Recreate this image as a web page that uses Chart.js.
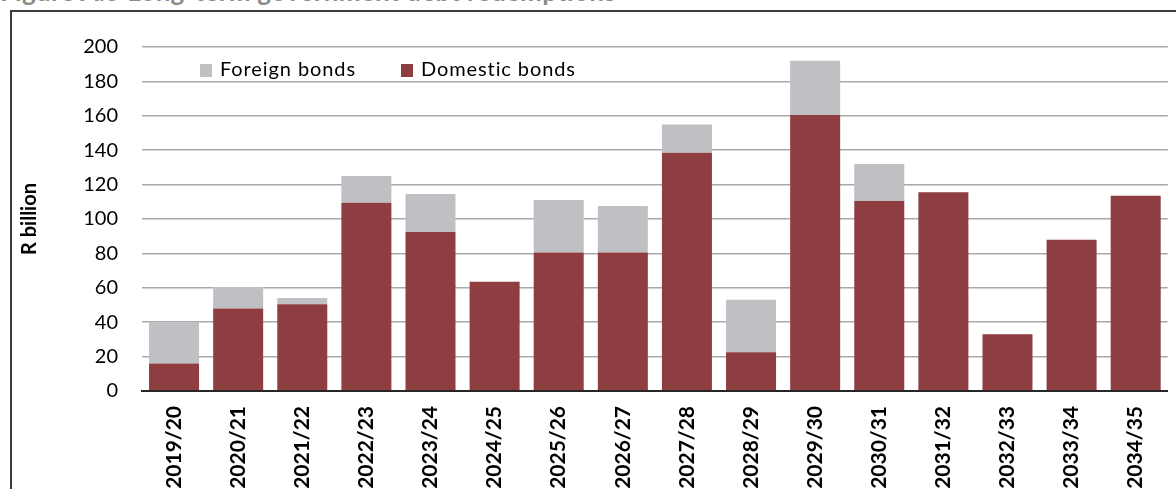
<!DOCTYPE html>
<html>
<head>
<meta charset="utf-8">
<script src="https://cdn.jsdelivr.net/npm/chart.js@4.4.1/dist/chart.umd.min.js"></script>
<style>
  html, body { margin: 0; padding: 0; background: #fff; overflow: hidden; }
  #wrap { position: relative; width: 1176px; height: 489px; }
  #frame {
    position: absolute; left: 10px; top: 10px; width: 1200px; height: 600px;
    border-left: 2px solid #3c3c3c; border-top: 2px solid #3c3c3c;
  }
  #title {
    position: absolute; left: 0; top: -22px; white-space: nowrap;
    font: bold 26px Lato, sans-serif; letter-spacing: 0.3px; line-height: 26px; color: #8a8a8a;
  }
  #chart { position: absolute; left: 0; top: 0; }
  .legend { position: absolute; top: 56px; font: 20px Lato, sans-serif; letter-spacing: 0.9px; color: #000; white-space: nowrap; }
  .legend span.box { display: inline-block; width: 12px; height: 13px; margin-right: 8px; vertical-align: -1px; }
</style>
</head>
<body>
<div id="wrap">
  <div id="title">Figure A.5 Long-term government debt redemptions</div>
  <div id="frame"></div>
  <canvas id="chart" width="1176" height="489"></canvas>
  <div class="legend" id="leg-foreign" style="left:200px"></div>
  <div class="legend" id="leg-domestic" style="left:401px"></div>
</div>
<script>
// Fiscal years on the x axis
const years = ['2019/20', '2020/21', '2021/22', '2022/23', '2023/24', '2024/25', '2025/26', '2026/27',
               '2027/28', '2028/29', '2029/30', '2030/31', '2031/32', '2032/33', '2033/34', '2034/35'];

// Redemptions, R billion
const domesticBonds = [16, 48, 50.5, 109.5, 92.5, 63.5, 80.5, 80.5, 138.5, 22.5, 160.5, 110.5, 115.5, 33, 88, 113.5];
const foreignBonds  = [24, 12.5, 3.5, 15.5, 22, 0, 30.5, 27, 16.5, 30.5, 31.5, 21.5, 0, 0, 0, 0];

const yTicks = [0, 20, 40, 60, 80, 100, 120, 140, 160, 180, 200];

const domesticColor = '#8e3d40';
const foreignColor = '#bfc0c3';

// simple html legend, Foreign first like the original
function fillLegend(id, label, color) {
    const el = document.getElementById(id);
    const box = document.createElement('span');
    box.className = 'box';
    box.style.background = color;
    el.appendChild(box);
    el.appendChild(document.createTextNode(label));
}
fillLegend('leg-foreign', 'Foreign bonds', foreignColor);
fillLegend('leg-domestic', 'Domestic bonds', domesticColor);

const ctx = document.getElementById('chart').getContext('2d');

new Chart(ctx, {
    type: 'bar',
    data: {
        labels: years,
        datasets: [
            {
                label: 'Domestic bonds',
                data: domesticBonds,
                backgroundColor: domesticColor,
                borderWidth: 0
            },
            {
                label: 'Foreign bonds',
                data: foreignBonds,
                backgroundColor: foreignColor,
                borderWidth: 0
            }
        ]
    },
    options: {
        responsive: false,
        animation: false,
        layout: {
            padding: { top: 47, right: 3, left: 0, bottom: 0 }
        },
        datasets: {
            bar: { categoryPercentage: 1, barPercentage: 0.78 }
        },
        plugins: {
            legend: { display: false },
            tooltip: { enabled: false }
        },
        scales: {
            x: {
                stacked: true,
                grid: { display: false, drawTicks: false },
                border: { display: true, color: '#262626', width: 2 },
                ticks: {
                    color: '#000',
                    font: { family: 'Lato', size: 21, weight: 'bold' },
                    minRotation: 90,
                    maxRotation: 90,
                    autoSkip: false,
                    padding: 15
                },
                afterFit: function(scale) {
                    scale.height = 98;
                }
            },
            y: {
                stacked: true,
                min: 0,
                max: 200,
                afterBuildTicks: function(scale) {
                    scale.ticks = yTicks.map(v => ({ value: v }));
                },
                grid: {
                    drawTicks: false,
                    color: (c) => c.tick && c.tick.value === 0 ? '#262626' : '#a9a9a9',
                    lineWidth: (c) => c.tick && c.tick.value === 0 ? 2 : 1.5
                },
                border: { display: false },
                ticks: {
                    color: '#000',
                    font: { family: 'Lato', size: 20 },
                    padding: 24
                },
                title: {
                    display: true,
                    text: 'R billion',
                    color: '#000',
                    font: { family: 'Lato', size: 20, weight: 'bold' },
                    padding: { top: 18, bottom: 0 }
                },
                afterFit: function(scale) {
                    scale.width = 142;
                }
            }
        }
    }
});
</script>
</body>
</html>
